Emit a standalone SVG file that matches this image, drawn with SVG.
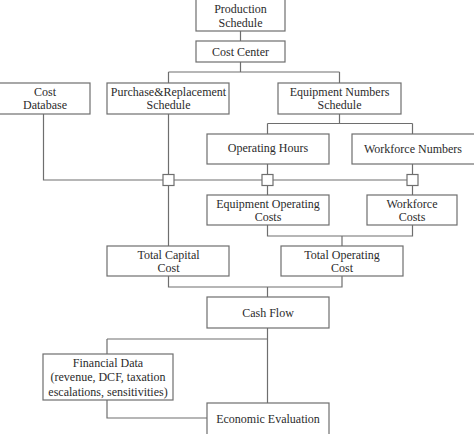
<svg xmlns="http://www.w3.org/2000/svg" width="474" height="434" viewBox="0 0 474 434">
<style>
rect.n{fill:#fff;stroke:#6e6e6e;stroke-width:1.2}
text{font-family:"Liberation Serif","Times New Roman",serif;font-size:12px;fill:#2b2b2b;text-anchor:middle}
.c path{fill:none;stroke:#6e6e6e;stroke-width:1.2}
.c rect{fill:#fff;stroke:#6e6e6e;stroke-width:1.2}
</style>
<rect width="474" height="434" fill="#fff"/>
<g class="c" id="connectors">
<path d="M240.5 31V41M240.5 62V72M168.5 72H339.5M168.5 72V83M339.5 72V83"/>
<path d="M43.5 114V180H412.5M168.5 114V246M339.5 114V123.5M267.5 123.5H412.5M267.5 123.5V134M412.5 123.5V134"/>
<path d="M267.5 164V195M412.5 164V195M267.5 225V236H412.5V225M342 236V246"/>
<path d="M168.5 276V287H342V276M267.5 287V297M267.5 328V403M107 339H267.5M107 339V354M107 400V418H207"/>
<rect x="163" y="174.5" width="11" height="11"/>
<rect x="262" y="174.5" width="11" height="11"/>
<rect x="407" y="174.5" width="11" height="11"/>
</g>
<g id="production-schedule"><rect class="n" x="196" y="-2" width="89" height="33"/><text x="240.5" y="13">Production</text><text x="240.5" y="27">Schedule</text></g>
<g id="cost-center"><rect class="n" x="196" y="41" width="89" height="21"/><text x="240.5" y="56">Cost Center</text></g>
<g id="cost-database"><rect class="n" x="-2" y="83" width="92" height="31"/><text x="45" y="96">Cost</text><text x="45" y="109">Database</text></g>
<g id="purchase-replacement"><rect class="n" x="107" y="83" width="122" height="31"/><text x="168.5" y="96">Purchase&amp;Replacement</text><text x="168.5" y="109">Schedule</text></g>
<g id="equipment-numbers"><rect class="n" x="278" y="83" width="123" height="31"/><text x="339.5" y="96">Equipment Numbers</text><text x="339.5" y="109">Schedule</text></g>
<g id="operating-hours"><rect class="n" x="207" y="134" width="122" height="30"/><text x="268" y="152">Operating Hours</text></g>
<g id="workforce-numbers"><rect class="n" x="352" y="134" width="124" height="30"/><text x="413" y="153">Workforce Numbers</text></g>
<g id="equipment-operating-costs"><rect class="n" x="207" y="195" width="122" height="30"/><text x="268" y="208">Equipment Operating</text><text x="268" y="221">Costs</text></g>
<g id="workforce-costs"><rect class="n" x="367" y="195" width="90" height="30"/><text x="412" y="208">Workforce</text><text x="412" y="221">Costs</text></g>
<g id="total-capital-cost"><rect class="n" x="107" y="246" width="122" height="30"/><text x="168.5" y="259">Total Capital</text><text x="168.5" y="272">Cost</text></g>
<g id="total-operating-cost"><rect class="n" x="281" y="246" width="122" height="30"/><text x="342" y="259">Total Operating</text><text x="342" y="272">Cost</text></g>
<g id="cash-flow"><rect class="n" x="207" y="297" width="122" height="31"/><text x="268" y="317">Cash Flow</text></g>
<g id="financial-data"><rect class="n" x="43" y="354" width="130" height="46"/><text x="108" y="367">Financial Data</text><text x="108" y="381">(revenue, DCF, taxation</text><text x="108" y="396">escalations, sensitivities)</text></g>
<g id="economic-evaluation"><rect class="n" x="207" y="403" width="122" height="34"/><text x="268" y="423">Economic Evaluation</text></g>
</svg>
